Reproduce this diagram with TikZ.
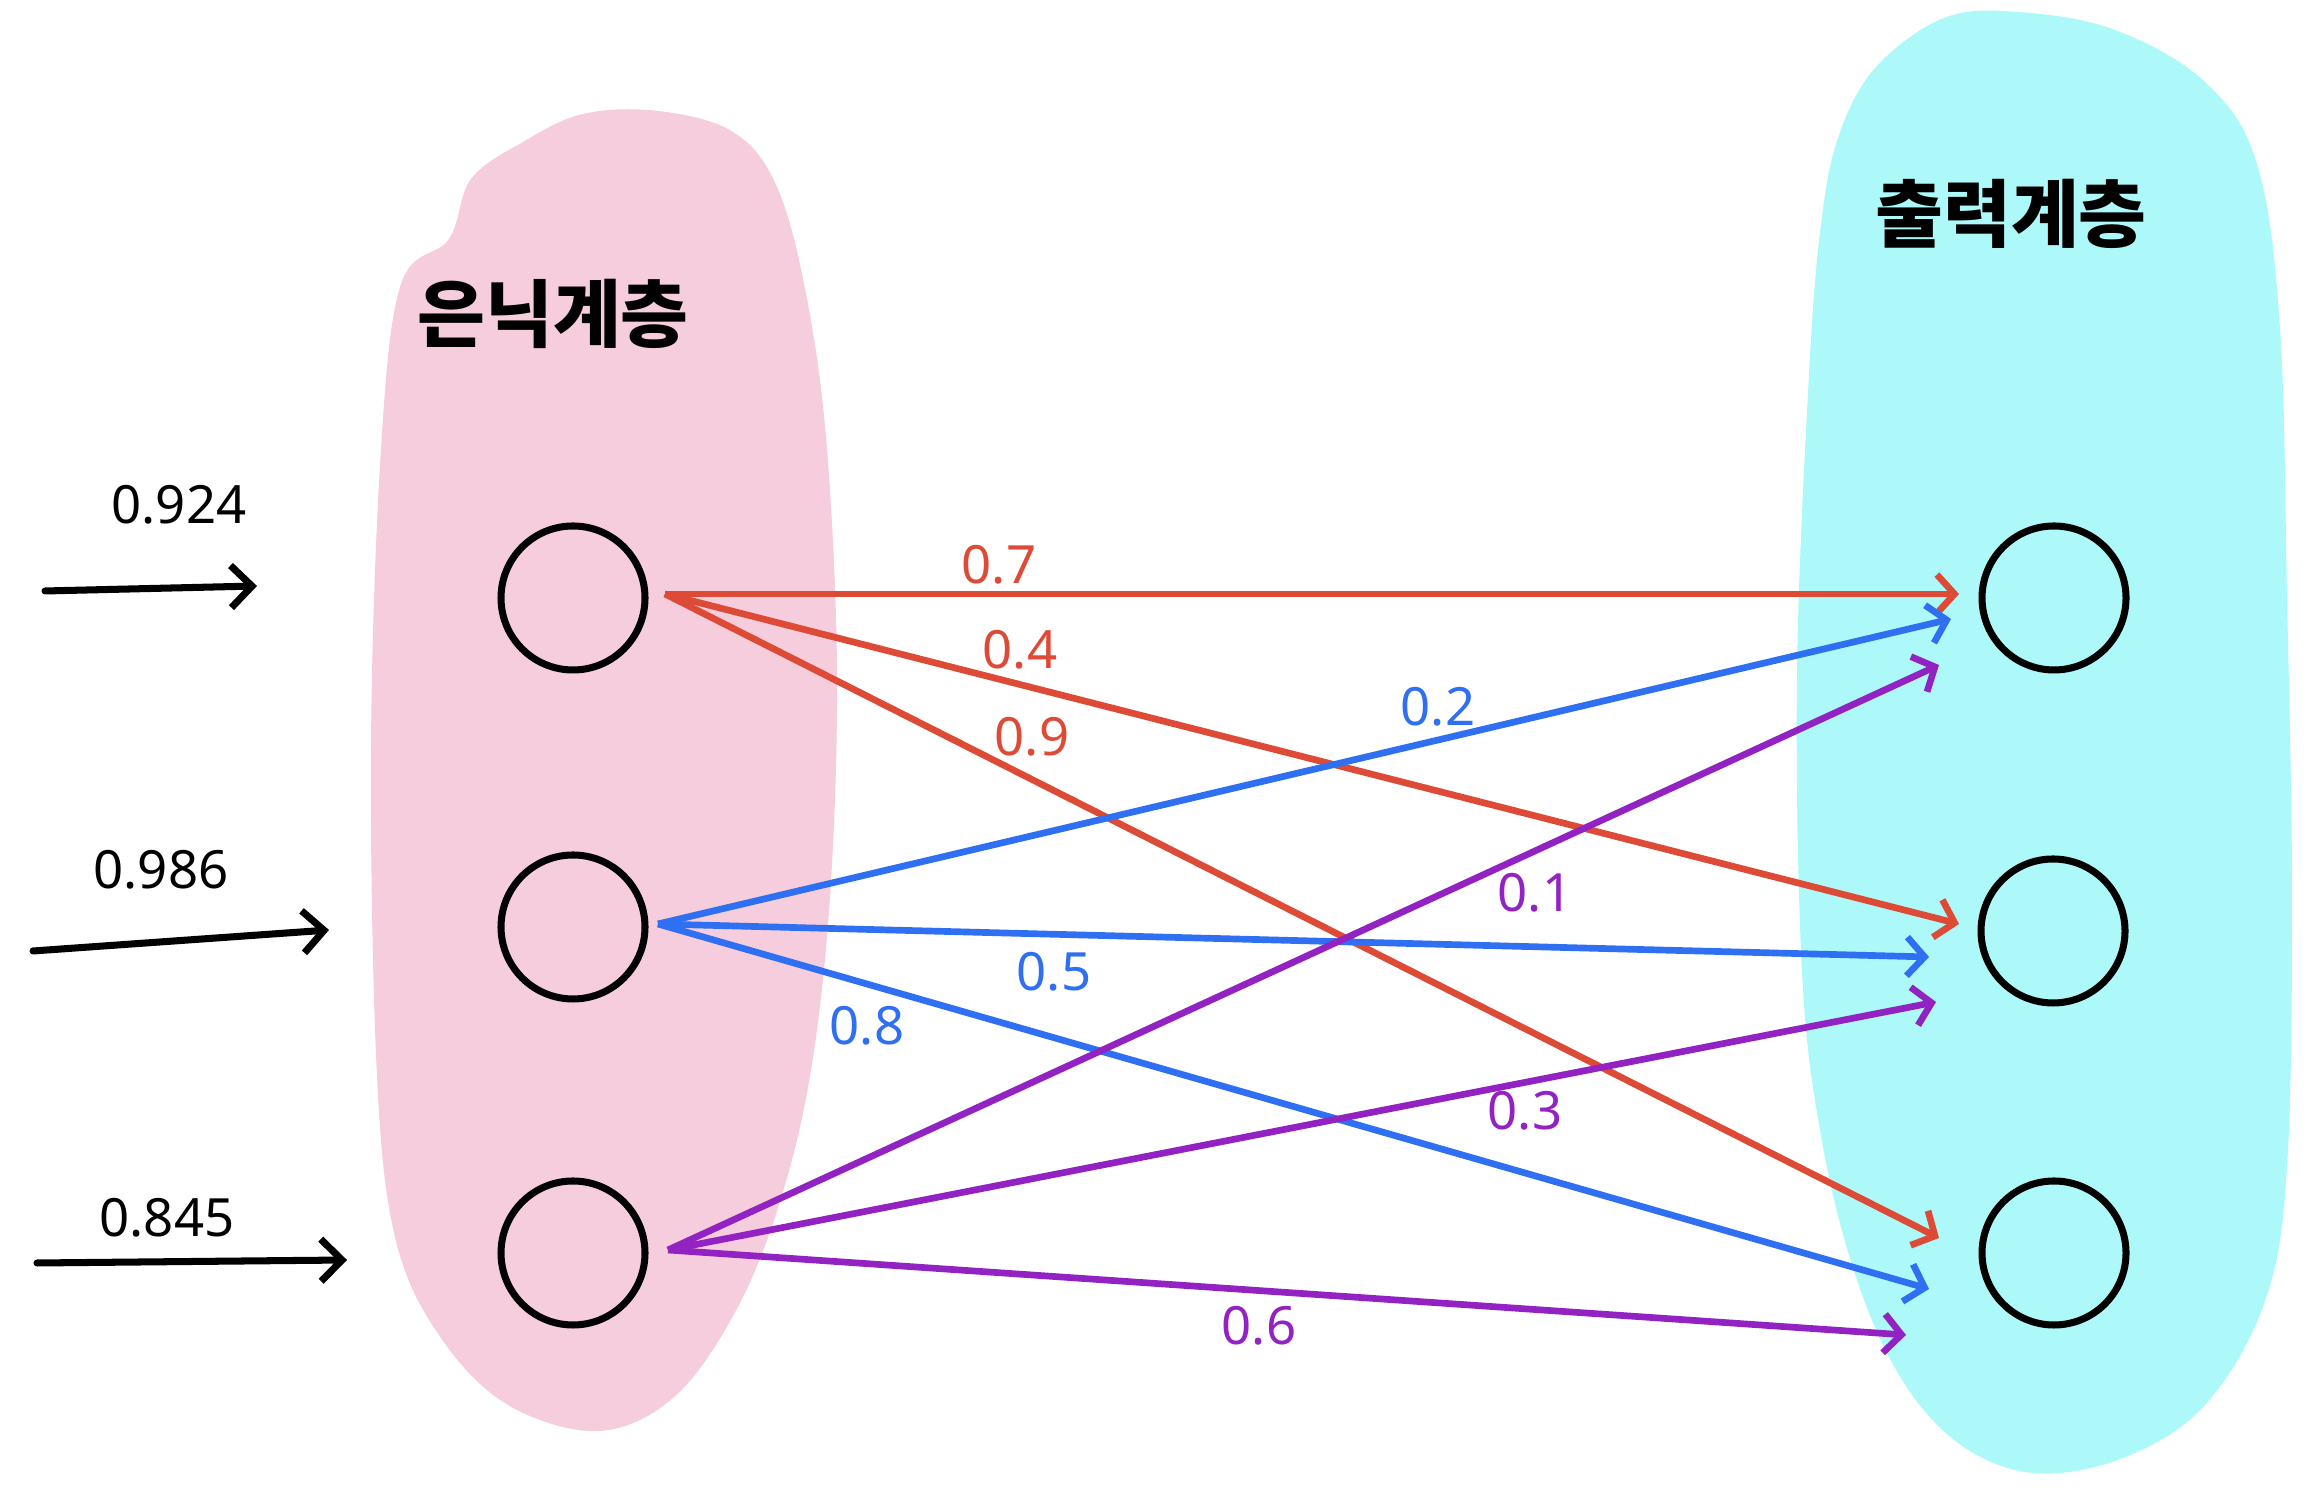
\documentclass[tikz,border=0pt]{standalone}
\usepackage{fontspec}
\setmainfont{Noto Sans}
\newfontfamily\hanfont{Noto Sans CJK KR}
\usepackage{xcolor}
\definecolor{dnhong}{HTML}{F5CDDC}
\definecolor{dnxanh}{HTML}{ADF9F9}
\definecolor{dndo}{HTML}{DD4A35}
\definecolor{dnlam}{HTML}{2F6FF2}
\definecolor{dntim}{HTML}{9322C3}
\def\mauvien{black}
\usetikzlibrary{arrows.meta,calc}

\begin{document}
\begin{tikzpicture}[declare function={%
			r=0.72;
		}
		]%
		\tikzset{
			noron/.style={circle,draw=\mauvien,line width=2pt,minimum size=1.44cm,inner sep=0pt},
			canh/.style={line width=1.9pt,-{Straight Barb[length=5pt,width=11pt,line width=1.9pt]}},
			dauvao/.style={line width=2pt,line cap=round,-{Straight Barb[length=6pt,width=12pt,line width=2pt]}},
			sofont/.style={font=\fontsize{15}{18}\selectfont\bfseries},
			tenlop/.style={font=\fontsize{21}{24}\hanfont\bfseries,text=\mauvien}
		}
		\useasboundingbox (0,0) rectangle (23.10,14.99);
		%%%Vẽ lớp ẩn
		\fill[dnhong] plot[smooth cycle,tension=0.6] coordinates {
			(4.01,12.15) (4.49,12.60) (4.71,13.20) (5.23,13.57) (5.83,13.85) (6.58,13.88)
			(7.33,13.67) (7.77,13.12) (8.07,12.00) (8.27,10.50) (8.37,8.26) (8.30,6.02)
			(8.10,4.23) (7.77,2.88) (7.33,1.83) (6.73,1.01) (5.98,0.68) (5.08,0.94)
			(4.41,1.61) (3.96,2.58) (3.77,4.23) (3.71,7.51) (3.81,10.50)};
		%%%Vẽ lớp ra
		\fill[dnxanh] plot[smooth cycle,tension=0.6] coordinates {
			(19.44,14.81) (18.76,14.32) (18.39,13.64) (18.21,12.75) (18.09,11.25) (17.97,8.26)
			(18.02,5.27) (18.21,3.63) (18.54,2.28) (18.99,1.24) (19.58,0.56) (20.33,0.26)
			(21.23,0.41) (22.05,0.94) (22.65,1.98) (22.87,3.33) (22.92,6.02) (22.87,9.01)
			(22.80,11.70) (22.57,13.35) (22.05,14.17) (21.15,14.69) (20.18,14.87)};
		\path (5.53,11.85) node[tenlop] (an) {은닉계층};
		\path (20.11,12.85) node[tenlop] (ra) {출력계층};
		%%%các nơ-ron
		\path (5.73,9.01) node[noron] (h1) {};
		\path (5.73,5.72) node[noron] (h2) {};
		\path (5.73,2.46) node[noron] (h3) {};
		\path (20.54,9.01) node[noron] (o1) {};
		\path (20.53,5.68) node[noron] (o2) {};
		\path (20.54,2.46) node[noron] (o3) {};
		%%%đầu vào
		\coordinate (a1) at (0.45,9.08); \coordinate (b1) at (2.57,9.13);
		\coordinate (a2) at (0.33,5.48); \coordinate (b2) at (3.29,5.69);
		\coordinate (a3) at (0.37,2.36); \coordinate (b3) at (3.47,2.39);
		\draw[dauvao] (a1) -- (b1);
		\draw[dauvao] (a2) -- (b2);
		\draw[dauvao] (a3) -- (b3);
		\path (1.79,9.94) node[sofont] (x1) {0.924};
		\path (1.61,6.29) node[sofont] (x2) {0.986};
		\path (1.67,2.81) node[sofont] (x3) {0.845};
		%%%điểm đầu, điểm cuối
		\coordinate (s1) at (6.65,9.05);
		\coordinate (s2) at (6.58,5.75);
		\coordinate (s3) at (6.68,2.49);
		\coordinate (e11) at (19.59,9.05); \coordinate (e12) at (19.59,5.75); \coordinate (e13) at (19.39,2.61);
		\coordinate (e21) at (19.51,8.80); \coordinate (e22) at (19.29,5.42); \coordinate (e23) at (19.29,2.10);
		\coordinate (e31) at (19.39,8.34); \coordinate (e32) at (19.36,4.97); \coordinate (e33) at (19.06,1.64);
		\foreach \i/\c in {1/dndo,2/dnlam,3/dntim}{%
			\foreach \j in {1,2,3}{%
				\draw[canh,\c] (s\i) -- (e\i\j);
			}
		}
		%%%trọng số
		\path (9.99,9.34) node[sofont,text=dndo] (w11) {0.7};
		\path (10.20,8.49) node[sofont,text=dndo] (w12) {0.4};
		\path (10.32,7.62) node[sofont,text=dndo] (w13) {0.9};
		\path (14.38,7.92) node[sofont,text=dnlam] (w21) {0.2};
		\path (10.54,5.27) node[sofont,text=dnlam] (w22) {0.5};
		\path (8.67,4.73) node[sofont,text=dnlam] (w23) {0.8};
		\path (15.35,6.06) node[sofont,text=dntim] (w31) {0.1};
		\path (15.25,3.88) node[sofont,text=dntim] (w32) {0.3};
		\path (12.59,1.73) node[sofont,text=dntim] (w33) {0.6};
	\end{tikzpicture}
\end{document}
